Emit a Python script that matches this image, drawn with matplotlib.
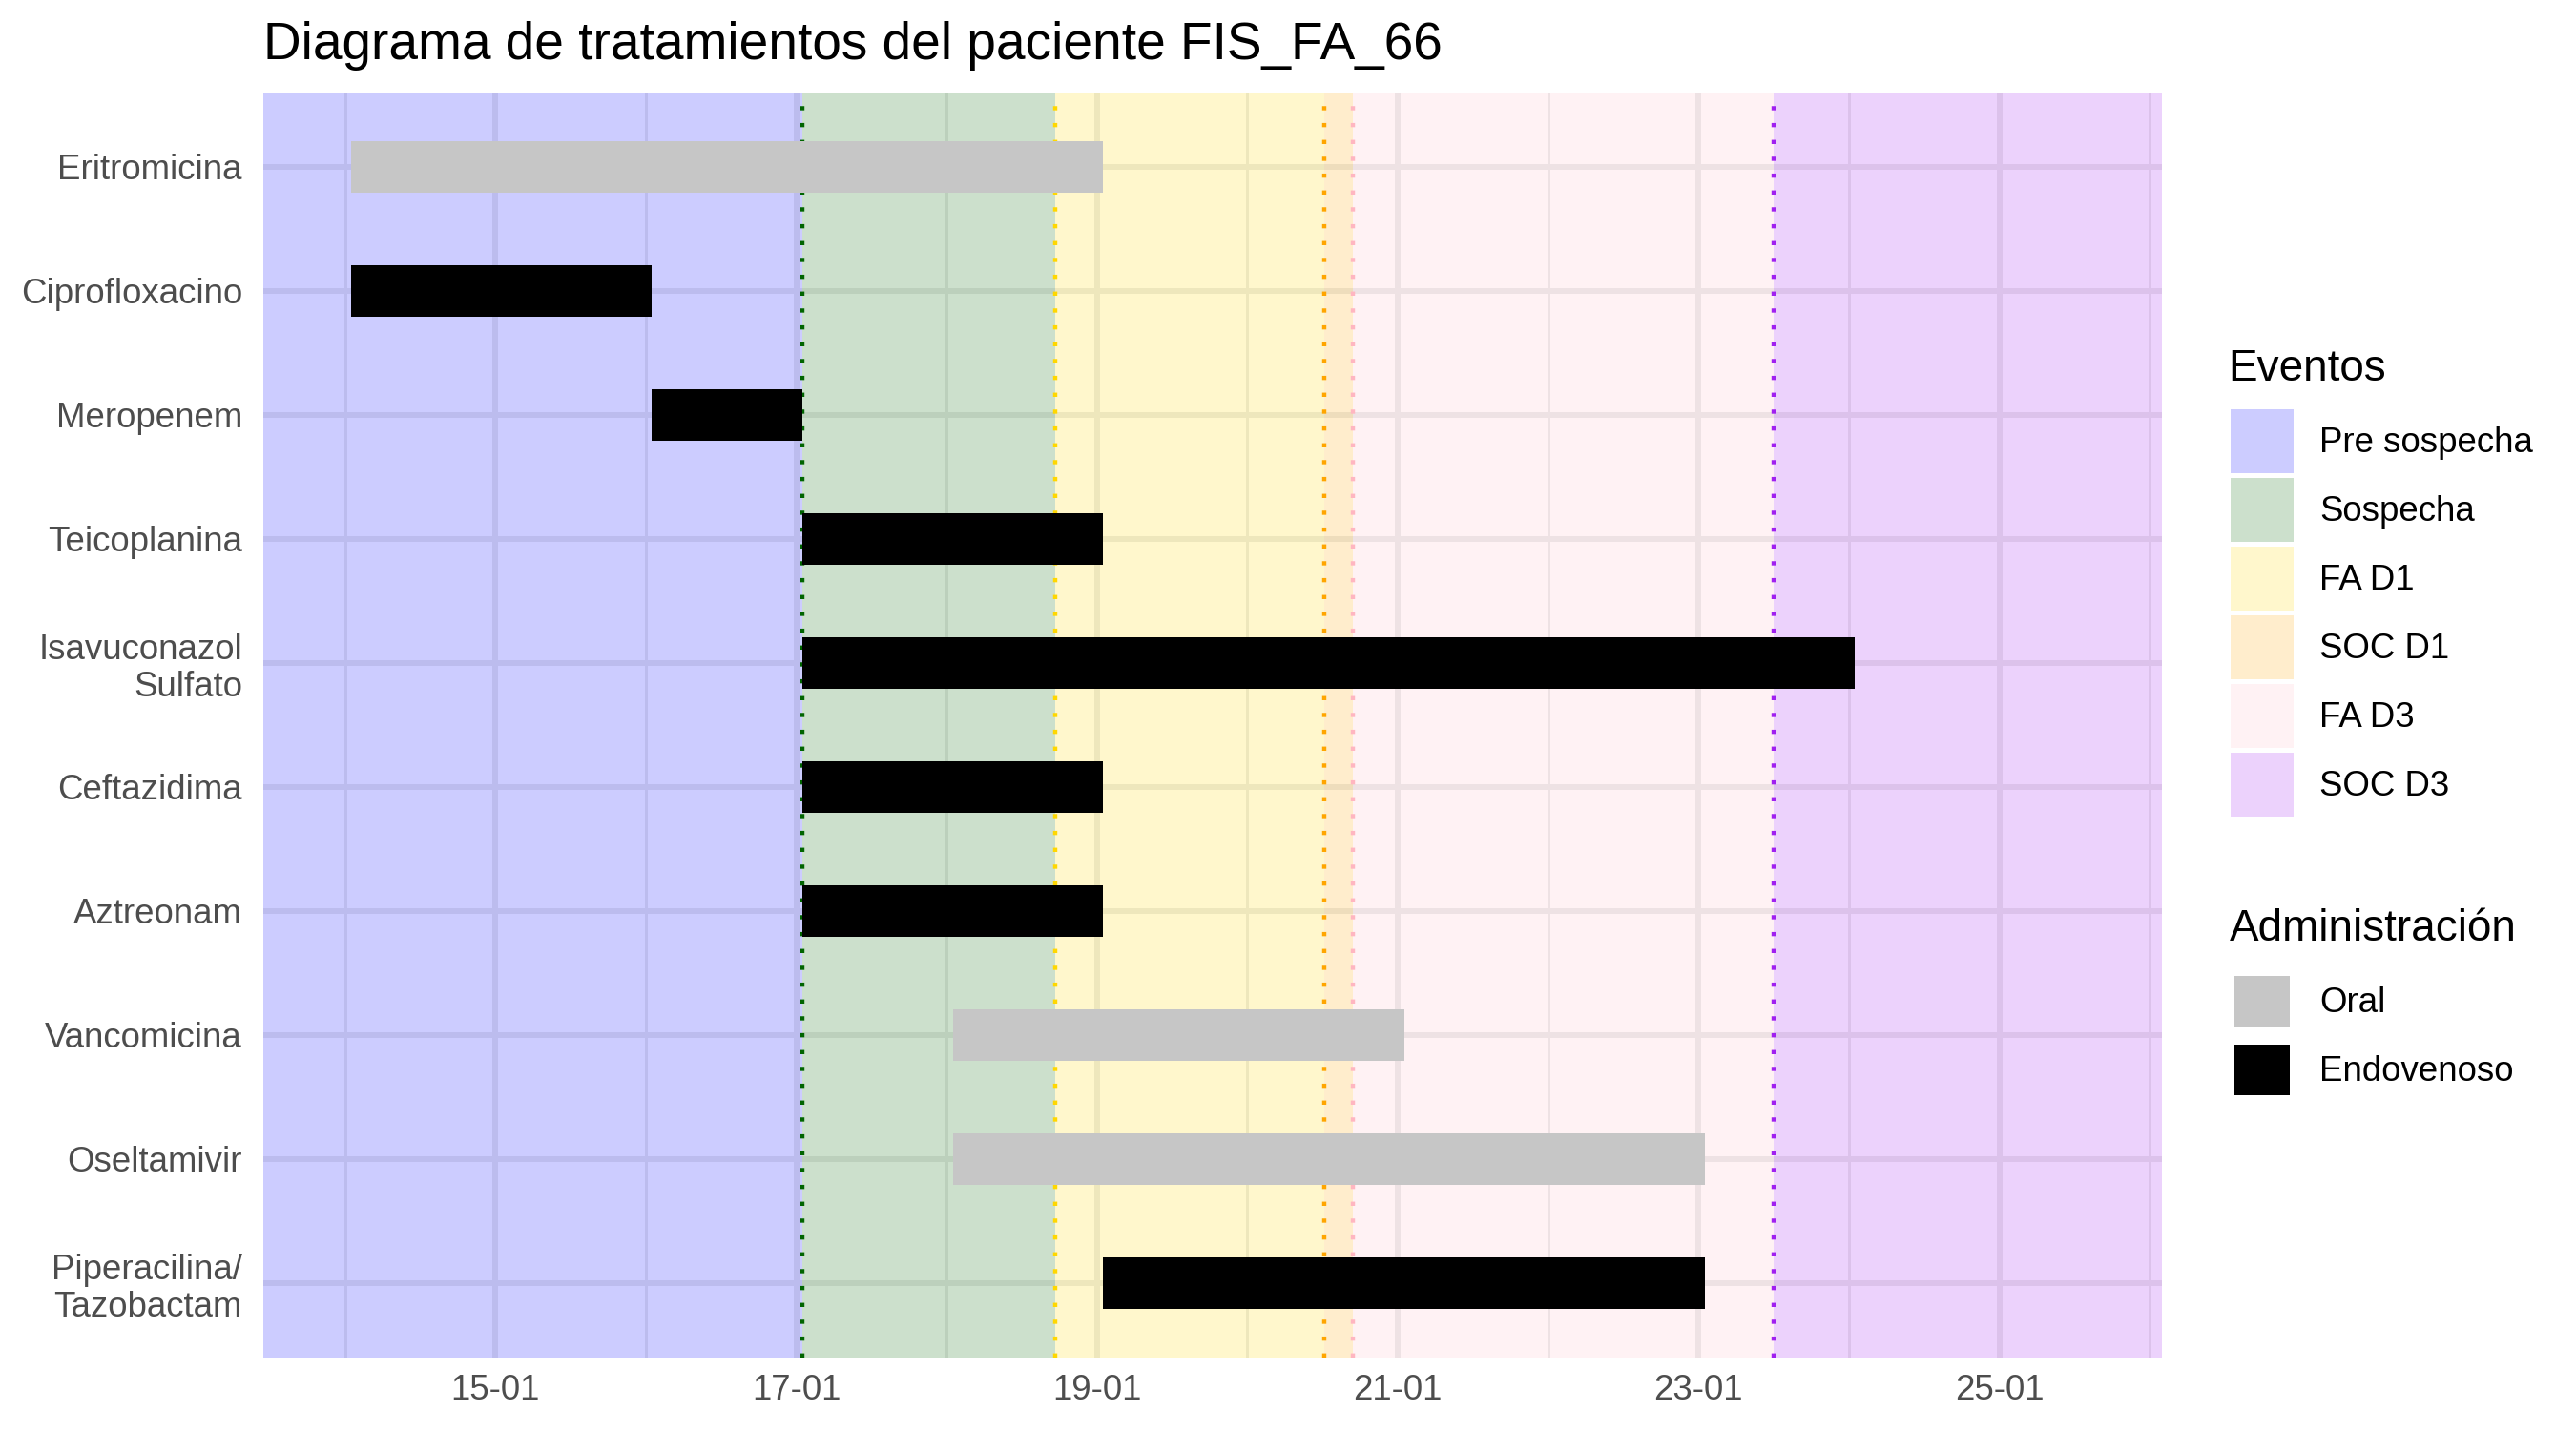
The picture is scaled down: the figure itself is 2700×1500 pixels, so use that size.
import matplotlib.pyplot as plt
from matplotlib.patches import Patch

plt.rcParams["font.family"] = ["Liberation Sans", "DejaVu Sans"]

# treatments, listed top to bottom; days of January (UTC)
treatments = ["Eritromicina", "Ciprofloxacino", "Meropenem", "Teicoplanina",
              "Isavuconazol\nSulfato", "Ceftazidima", "Aztreonam", "Vancomicina",
              "Oseltamivir", "Piperacilina/\nTazobactam"]
start_day = [14, 14, 16, 17, 17, 17, 17, 18, 18, 19]
end_day = [19, 16, 17, 19, 24, 19, 19, 21, 23, 23]
route = ["Oral", "Endovenoso", "Endovenoso", "Endovenoso", "Endovenoso",
         "Endovenoso", "Endovenoso", "Oral", "Oral", "Endovenoso"]

# clinical events (start of each phase, fractional day of January)
event_names = ["Pre sospecha", "Sospecha", "FA D1", "SOC D1", "FA D3", "SOC D3"]
event_start = [13.415, 17.0, 18.68, 20.47, 20.66, 23.46]
event_colors = ["#0000FF", "#006400", "#FFD700", "#FFA500", "#FFC0CB", "#A020F0"]
line_colors = ["#0000FF", "#006400", "#FFD700", "#FFA500", "#FFB6C1", "#A020F0"]
x_end = 26.04

route_names = ["Oral", "Endovenoso"]
route_colors = {"Oral": "#C6C6C6", "Endovenoso": "#000000"}

tick_days = [15, 17, 19, 21, 23, 25]
minor_days = [14, 16, 18, 20, 22, 24, 26]
TZ_SHIFT = 1 / 24  # axis labels are local midnight (UTC+1)

W, H = 2700, 1500
fig = plt.figure(figsize=(9, 5), dpi=300)
ax = fig.add_axes([276 / W, 1 - 1423 / H, (2266 - 276) / W, (1423 - 97) / H])

# background phases
event_end = event_start[1:] + [x_end]
for s, e, c in zip(event_start, event_end, event_colors):
    ax.axvspan(s, e, color=c, alpha=0.2, lw=0, zorder=1)
for s, c in zip(event_start[1:], line_colors[1:]):
    ax.axvline(s, color=c, lw=1.06, linestyle=(0, (1, 3)), zorder=2)

y = list(range(len(treatments)))
widths = [e - s for s, e in zip(start_day, end_day)]
ax.barh(y, widths, left=start_day, height=0.41,
        color=[route_colors[r] for r in route], lw=0, zorder=3)

ax.set_xlim(event_start[0], x_end)
ax.set_ylim(len(treatments) - 0.4, -0.6)
ax.set_xticks([d - TZ_SHIFT for d in tick_days])
ax.set_xticklabels([f"{d:02d}-01" for d in tick_days])
ax.set_xticks([d - TZ_SHIFT for d in minor_days], minor=True)
ax.set_yticks(y)
ax.set_yticklabels(treatments, linespacing=1.13)

ax.set_axisbelow(True)
ax.grid(which="major", color="#EBEBEB", lw=1.42)
ax.grid(which="minor", axis="x", color="#EBEBEB", lw=0.71)
ax.tick_params(which="both", length=0, labelsize=8.8, labelcolor="#4D4D4D")
ax.tick_params(axis="x", pad=4)
ax.tick_params(axis="y", pad=5.3)
for sp in ax.spines.values():
    sp.set_visible(False)

ax.set_title("Diagrama de tratamientos del paciente FIS_FA_66", loc="left",
             fontsize=13.2, pad=8.4)

# legends (titles placed as text so key spacing can follow ggplot)
fig.text(2335 / W, 1 - 399 / H, "Eventos", fontsize=11, va="baseline")
ev_handles = [Patch(facecolor=c, alpha=0.2, edgecolor="none") for c in event_colors]
fig.legend(ev_handles, event_names, loc="upper left",
           bbox_to_anchor=(2338 / W, 1 - 429 / H), frameon=False, fontsize=8.8,
           handlelength=1.8, handleheight=2.434, labelspacing=0.136,
           handletextpad=0.74, borderpad=0, borderaxespad=0)

fig.text(2337 / W, 1 - 986 / H, "Administración", fontsize=11, va="baseline")
rt_handles = [Patch(facecolor=route_colors[r], edgecolor="none") for r in route_names]
fig.legend(rt_handles, route_names, loc="upper left",
           bbox_to_anchor=(2342 / W, 1 - 1023 / H), frameon=False, fontsize=8.8,
           handlelength=1.58, handleheight=1.846, labelspacing=0.518,
           handletextpad=0.85, borderpad=0, borderaxespad=0)

fig.savefig("out.png", dpi=300)
